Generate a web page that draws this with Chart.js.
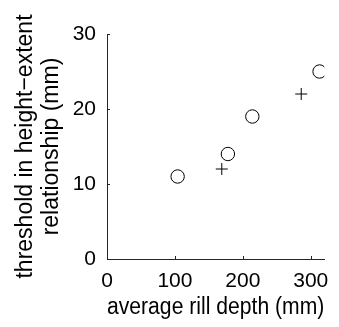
<!DOCTYPE html>
<html>
<head>
<meta charset="utf-8">
<script src="https://cdn.jsdelivr.net/npm/chart.js"></script>
<style>
  html, body { margin: 0; padding: 0; background: #fff; }
  #wrap { width: 339px; height: 327px; }
</style>
</head>
<body>
<div id="wrap"><canvas id="rillChart"></canvas></div>
<script>
// rill depth vs. threshold, two groups of sites
const circleDepth = [104, 178, 214, 313];
const circleThreshold = [11, 14, 19, 25];
const crossDepth = [169, 286];
const crossThreshold = [12, 22];
const xTicks = [0, 100, 200, 300];
const yTicks = [0, 10, 20, 30];

const AXIS = '#262626';
const FONT = 'Liberation Sans, Arial, Helvetica, sans-serif';

function pairs(xs, ys) {
    return xs.map((x, i) => ({ x, y: ys[i] }));
}

// short tick marks pointing into the plot area
const inwardTicks = {
    id: 'inwardTicks',
    afterDraw(chart) {
        const { ctx, chartArea, scales } = chart;
        ctx.save();
        ctx.strokeStyle = AXIS;
        ctx.lineWidth = 1;
        ctx.beginPath();
        xTicks.forEach(v => {
            const px = Math.round(scales.x.getPixelForValue(v)) + 0.5;
            ctx.moveTo(px, chartArea.bottom);
            ctx.lineTo(px, chartArea.bottom - 3);
        });
        yTicks.forEach(v => {
            const py = Math.round(scales.y.getPixelForValue(v)) + 0.5;
            ctx.moveTo(chartArea.left, py);
            ctx.lineTo(chartArea.left + 3, py);
        });
        ctx.stroke();
        ctx.restore();
    }
};

new Chart(document.getElementById('rillChart').getContext('2d'), {
    type: 'scatter',
    data: {
        datasets: [{
            data: pairs(circleDepth, circleThreshold),
            pointStyle: 'circle',
            pointRadius: 6.7,
            borderColor: '#000',
            backgroundColor: 'rgba(0,0,0,0)',
            borderWidth: 1
        }, {
            data: pairs(crossDepth, crossThreshold),
            pointStyle: 'cross',
            pointRadius: 6,
            borderColor: '#000',
            borderWidth: 1
        }]
    },
    options: {
        responsive: true,
        maintainAspectRatio: false,
        animation: false,
        events: [],
        layout: { padding: { top: 34, right: 12, left: 0, bottom: 0 } },
        plugins: { legend: { display: false }, tooltip: { enabled: false } },
        scales: {
            x: {
                type: 'linear',
                min: 0,
                max: 320,
                afterBuildTicks: s => { s.ticks = xTicks.map(value => ({ value })); },
                afterFit: s => { s.height = 68; },
                grid: { display: true, drawOnChartArea: false, drawTicks: false },
                border: { color: AXIS, width: 1 },
                ticks: { color: '#000', padding: 10, maxRotation: 0, font: { family: FONT, size: 21 } },
                title: {
                    display: true,
                    text: 'average rill depth (mm)',
                    color: '#000',
                    padding: { top: 0, bottom: 6 },
                    font: { family: FONT, size: 23, lineHeight: 1.2 }
                }
            },
            y: {
                type: 'linear',
                min: 0,
                max: 30,
                afterBuildTicks: s => { s.ticks = yTicks.map(value => ({ value })); },
                afterFit: s => { s.width = 107; },
                grid: { display: true, drawOnChartArea: false, drawTicks: false },
                border: { color: AXIS, width: 1 },
                ticks: { color: '#000', padding: 11, font: { family: FONT, size: 21 } },
                title: {
                    display: true,
                    text: ['threshold in height\u2212extent', 'relationship (mm)'],
                    color: '#000',
                    padding: { top: 13, bottom: 0 },
                    font: { family: FONT, size: 23, lineHeight: 1.12 }
                }
            }
        }
    },
    plugins: [inwardTicks]
});
</script>
</body>
</html>
